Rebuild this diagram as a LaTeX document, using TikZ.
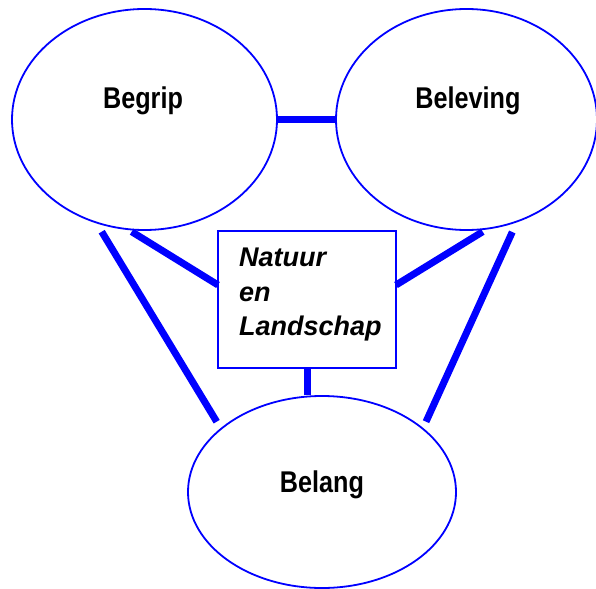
\documentclass[tikz,border=0pt]{standalone}
\usepackage{fontspec}
\setmainfont{Liberation Sans}
\newfontfamily\condfont[FakeStretch=0.84]{Liberation Sans}
\usetikzlibrary{shapes.geometric}
\definecolor{lineblue}{RGB}{0,0,255}
\begin{document}
\begin{tikzpicture}[x=1pt,y=-1pt,
  oval/.style={draw=lineblue,line width=1.8pt,ellipse,inner sep=0pt},
  ovallabel/.style={font=\condfont\bfseries\fontsize{30}{36}\selectfont,inner sep=0pt},
  boxnode/.style={draw=lineblue,line width=1.6pt,rectangle,inner sep=0pt},
  link/.style={draw=lineblue,line width=7pt}]
\useasboundingbox (0,0) rectangle (596,588);
\node[oval,minimum width=265pt,minimum height=221pt] (begrip) at (144.5,119.5) {};
\node[oval,minimum width=261pt,minimum height=221pt] (beleving) at (466.5,119.5) {};
\node[oval,minimum width=268pt,minimum height=192pt] (belang) at (322,492) {};
\node[boxnode,minimum width=178pt,minimum height=137pt] (box) at (307,299.5) {};
\node[ovallabel] (tbegrip) at (143,101) {Begrip};
\node[ovallabel] (tbeleving) at (468,101) {Beleving};
\node[ovallabel] (tbelang) at (322,485) {Belang};
\node[font=\bfseries\itshape\fontsize{27}{34.5}\selectfont,align=left,anchor=north west,inner sep=0pt] (tnl) at (239,248) {Natuur\\en\\Landschap};
\coordinate (b1) at (101.7,231.7);
\coordinate (b2) at (131.7,231.7);
\coordinate (v1) at (482.7,231.7);
\coordinate (v2) at (512.3,232);
\coordinate (l1) at (216.7,421.7);
\coordinate (l2) at (426,421.7);
\coordinate (x1) at (218,285);
\coordinate (x2) at (396,285);
\draw[link] (begrip.east) -- (beleving.west);
\draw[link] (b2) -- (x1);
\draw[link] (x2) -- (v1);
\draw[link] (b1) -- (l1);
\draw[link] (v2) -- (l2);
\draw[link] (box.south) -- (box.south |- belang.north);
\end{tikzpicture}
\end{document}
